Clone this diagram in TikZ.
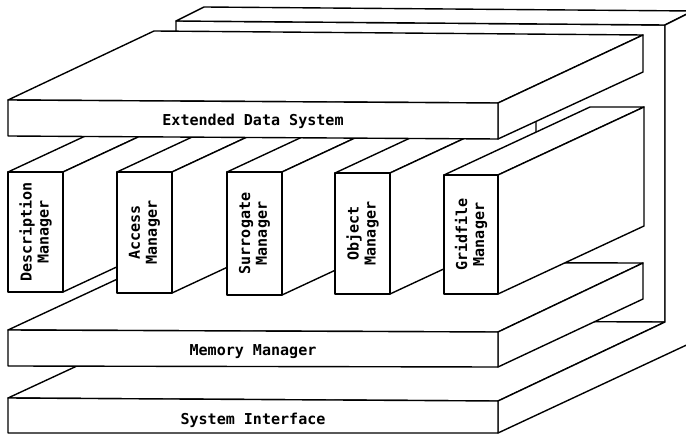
\documentclass[tikz,border=0pt]{standalone}
\usepackage{fontspec}
\setmonofont{DejaVu Sans Mono}
\tikzset{
  face/.style={fill=white, draw=black, line width=1.4pt, line join=round},
  lbl/.style={font=\ttfamily\bfseries\fontsize{15.1}{17}\selectfont, inner sep=0pt},
  vlbl/.style={lbl, rotate=90, align=center}
}
% one manager block: name, left x, right x, top y, bottom y, label
\newcommand\mgrblock[6]{%
  \draw[face] (#2,#4) -- (#2+146,#4-68) -- (#3+146,#4-68) -- (#3,#4) -- cycle;
  \draw[face] (#3,#4) -- (#3+146,#4-68) -- (#3+146,#5-68) -- (#3,#5) -- cycle;
  \draw[face] (#2,#4) rectangle (#3,#5);
  \node[vlbl] (#1) at ({(#2+#3)/2},{(#4+#5)/2}) {#6};
}
\begin{document}
\begin{tikzpicture}[x=1bp, y=-1bp]
\useasboundingbox (0,0) rectangle (686,435);
\clip (0,0) rectangle (686,435);

% base: floor with rear wall (System Interface)
\draw[face] (176,21) -- (665,25) -- (665,322) -- (176,320) -- cycle;
\draw[face] (176,21) -- (204,7) -- (693,11) -- (665,25) -- cycle;
\draw[face] (8,398) -- (176,320) -- (665,322) -- (498,401) -- cycle;
\draw[face] (498,401) -- (665,322) -- (665,25) -- (693,11) -- (693,342) -- (498,433) -- cycle;
\draw[face] (8,398) -- (498,401) -- (498,433) -- (8,433) -- cycle;
\node[lbl, anchor=base] (sysif) at (253,424) {System Interface};

% Memory Manager slab
\draw[face] (8,330) -- (154,262) -- (643,263) -- (498,332) -- cycle;
\draw[face] (498,332) -- (643,263) -- (643,299) -- (498,367) -- cycle;
\draw[face] (8,330) -- (498,332) -- (498,367) -- (8,366) -- cycle;
\node[lbl, anchor=base] (memmgr) at (253,355) {Memory Manager};

% manager blocks
\mgrblock{descr}{8}{63}{172}{292}{Description\\Manager}
\mgrblock{access}{117}{172}{172}{293}{Access\\Manager}
\mgrblock{surr}{227}{282}{172}{295}{Surrogate\\Manager}
\mgrblock{obj}{335}{390}{173}{294}{Object\\Manager}
\mgrblock{grid}{444}{498}{175}{294}{Gridfile\\Manager}

% Extended Data System slab
\draw[face] (8,100) -- (154,31) -- (643,35) -- (498,103) -- cycle;
\draw[face] (498,103) -- (643,35) -- (643,72) -- (498,139) -- cycle;
\draw[face] (8,100) -- (498,103) -- (498,139) -- (8,136) -- cycle;
\node[lbl, anchor=base] (eds) at (253,126) {Extended Data System};
\end{tikzpicture}
\end{document}
